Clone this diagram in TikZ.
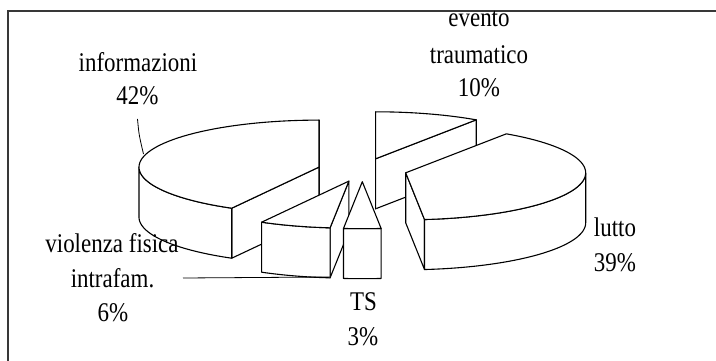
\documentclass[tikz,border=0pt]{standalone}
\usepackage{fontspec}
\setmainfont{Liberation Serif}[FakeStretch=0.85]
\newcommand\prx{180}
\newcommand\pry{47}
\newcommand\pth{50}
\newcommand{\pietop}[4]{\filldraw[pie] (#1,#2) -- plot[domain=#3:#4,samples=60] ({#1+\prx*cos(\x)},{#2-\pry*sin(\x)}) -- cycle;}
\newcommand{\pieside}[4]{\filldraw[pie] plot[domain=#3:#4,samples=60] ({#1+\prx*cos(\x)},{#2-\pry*sin(\x)}) -- plot[domain=#4:#3,samples=60] ({#1+\prx*cos(\x)},{#2+\pth-\pry*sin(\x)}) -- cycle;}
\newcommand{\pierad}[3]{\filldraw[pie] (#1,#2) -- ({#1+\prx*cos(#3)},{#2-\pry*sin(#3)}) -- ++(0,\pth) -- (#1,{#2+\pth}) -- cycle;}
\begin{document}
\begin{tikzpicture}[x=1pt,y=-1pt,
  pie/.style={draw=black,fill=white,line width=1.1pt,line join=round},
  lbl/.style={anchor=base,inner sep=0pt,font=\fontsize{27}{32}\selectfont},
  leader/.style={draw=black,line width=0.8pt},
  frame/.style={draw=black!78,line width=2pt}]
\useasboundingbox (0,0) rectangle (716,361);
\fill[white] (0,0) rectangle (716,361);
\draw[frame] (7.5,380) -- (7.5,11) -- (730,11);
% evento traumatico
\pierad{375.6}{158.8}{56}
\pierad{375.6}{158.8}{90}
\pietop{375.6}{158.8}{56}{90}
% informazioni
\pierad{319}{167.1}{90}
\pierad{319}{167.1}{241}
\pieside{319}{167.1}{180}{241}
\pietop{319}{167.1}{90}{241}
% lutto
\pierad{405.7}{172.8}{-84}
\pieside{405.7}{172.8}{-84}{0}
\pietop{405.7}{172.8}{-84}{56}
% violenza
\pierad{348.9}{181.1}{-96}
\pieside{348.9}{181.1}{-119}{-96}
\pietop{348.9}{181.1}{-119}{-96}
% TS
\pieside{362.3}{181.7}{-96}{-84}
\pietop{362.3}{181.7}{-96}{-84}
% leaders
\coordinate (infoL1) at (137.5,119);
\coordinate (infoL2) at (143.5,154);
\draw[leader] (infoL1) .. controls (139,135) .. (infoL2);
\coordinate (viL1) at (183,278);
\coordinate (viL2) at (330,277);
\draw[leader] (viL1) -- (viL2);
% labels
\node[lbl] (info1) at (138,72) {informazioni};
\node[lbl] (info2) at (137.5,105) {42\%};
\node[lbl] (ev1) at (479,26.7) {evento};
\node[lbl] (ev2) at (479,63.3) {traumatico};
\node[lbl] (ev3) at (479,97) {10\%};
\node[lbl] (lu1) at (615,236) {lutto};
\node[lbl] (lu2) at (615,271.7) {39\%};
\node[lbl] (vi1) at (112,252) {violenza fisica};
\node[lbl] (vi2) at (112.5,287) {intrafam.};
\node[lbl] (vi3) at (113,321.7) {6\%};
\node[lbl] (ts1) at (363.5,310) {TS};
\node[lbl] (ts2) at (363,345) {3\%};
\end{tikzpicture}
\end{document}
